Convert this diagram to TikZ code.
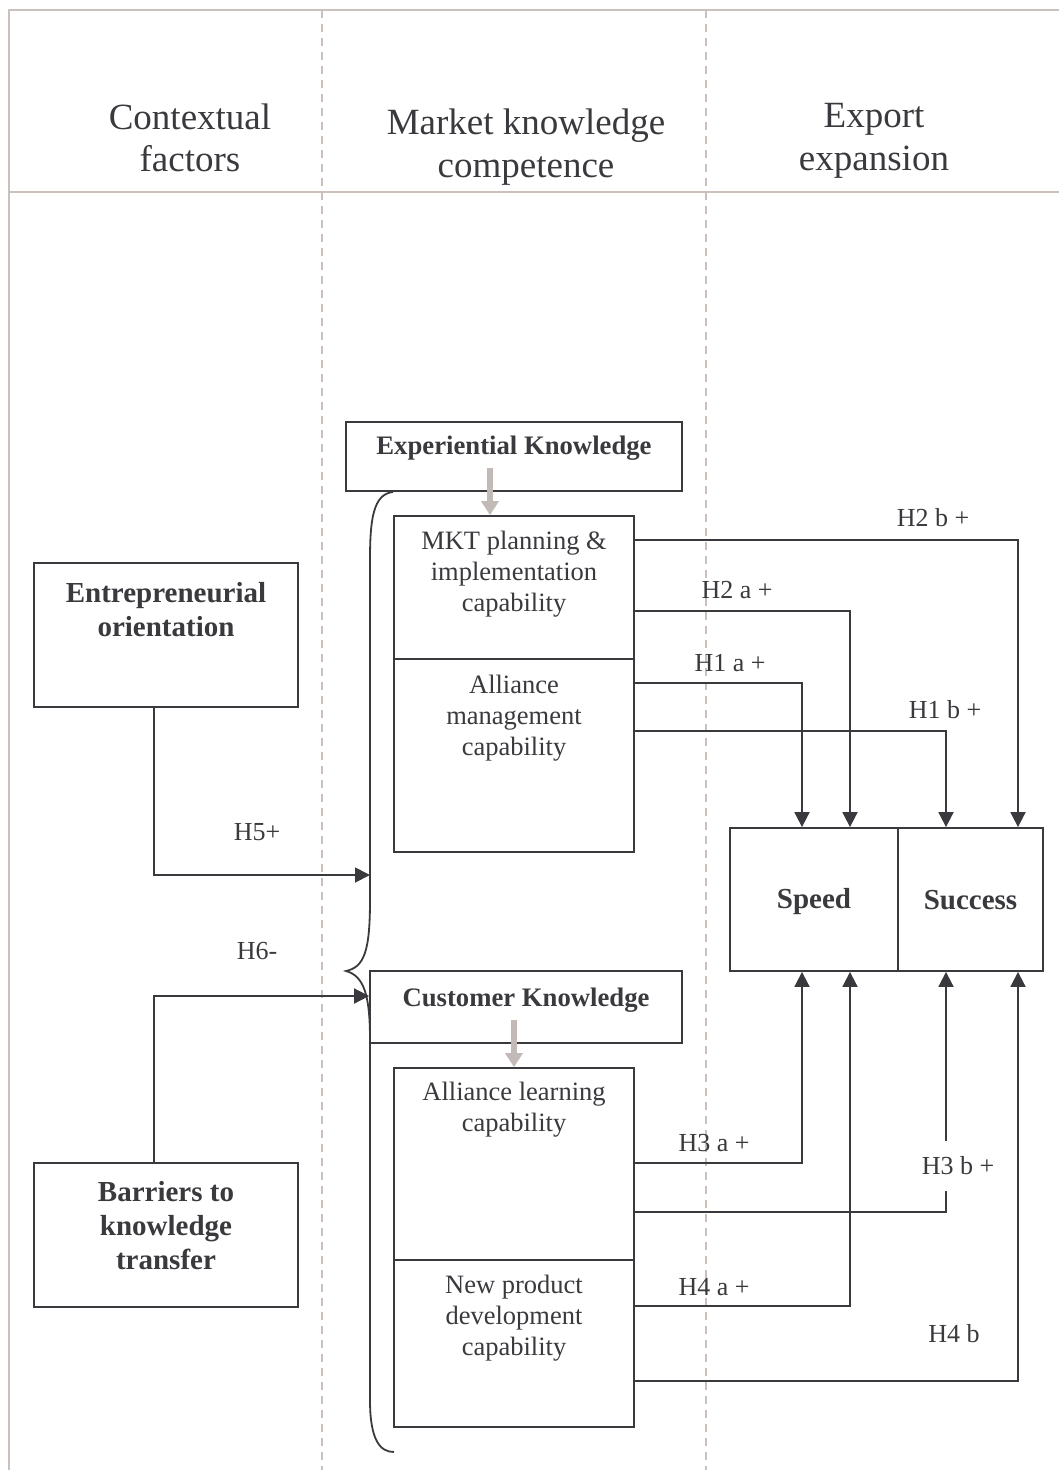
\documentclass[tikz,border=0pt]{standalone}
\usepackage{fontspec}
\setmainfont{Liberation Serif}
\usetikzlibrary{arrows.meta,calc}
\definecolor{ink}{RGB}{58,58,62}
\definecolor{rulecol}{RGB}{202,192,188}
\definecolor{flowcol}{RGB}{194,186,182}
\begin{document}
\begin{tikzpicture}[x=1pt,y=-1pt,
  box/.style={draw=ink, line width=1.8pt, fill=white, inner sep=0pt},
  framerule/.style={draw=rulecol, line width=2pt},
  colrule/.style={draw=rulecol, line width=2pt, dash pattern=on 8pt off 6pt},
  conn/.style={draw=ink, line width=1.8pt, -{Triangle[width=15pt,length=15pt]}},
  feed/.style={draw=flowcol, line width=6pt, -{Triangle[width=17pt,length=14pt]}},
  head/.style={font=\fontsize{37}{42.5}\selectfont, text=ink, align=center, inner sep=0pt},
  body/.style={font=\fontsize{26.5}{31}\selectfont, text=ink, align=center, inner sep=0pt},
  bigbold/.style={font=\bfseries\fontsize{29}{34}\selectfont, text=ink, align=center, inner sep=0pt},
  kbold/.style={font=\bfseries\fontsize{26.7}{31}\selectfont, text=ink, align=center, inner sep=0pt},
  hyp/.style={font=\fontsize{26}{30}\selectfont, text=ink, inner sep=0pt}
]
\useasboundingbox (0,0) rectangle (1059,1470);

% frame and column separators
\draw[framerule] (8.5,1470) -- (8.5,10) -- (1059,10);
\draw[framerule] (8.5,192) -- (1059,192);
\draw[colrule] (322,10) -- (322,1470);
\draw[colrule] (706,10) -- (706,1470);

% column headings
\node[head] (hctx) at (190,138) {Contextual\\factors};
\node[head] (hmkc) at (526,147) {Market knowledge\\competence};
\node[head] (hexp) at (874,141) {Export\\expansion};

% boxes
\node[box, minimum width=336pt, minimum height=69pt] (exp) at (514,456.5) {};
\node[box, minimum width=240pt, minimum height=143pt] (mkt) at (514,587.5) {};
\node[box, minimum width=240pt, minimum height=193pt] (amc) at (514,755.5) {};
\node[box, minimum width=264pt, minimum height=144pt] (eo) at (166,635) {};
\node[box, minimum width=264pt, minimum height=144pt] (bar) at (166,1235) {};
\node[box, minimum width=312pt, minimum height=72pt] (cust) at (526,1007) {};
\node[box, minimum width=240pt, minimum height=192pt] (alc) at (514,1164) {};
\node[box, minimum width=240pt, minimum height=167pt] (npd) at (514,1343.5) {};
\node[box, minimum width=168pt, minimum height=143pt] (speed) at (814,899.5) {};
\node[box, minimum width=145pt, minimum height=143pt] (success) at (970.5,899.5) {};

% box texts
\node[bigbold] (speedt) at (814,902) {Speed};
\node[bigbold] (successt) at (970.5,900) {Success};
\node[kbold] (expt) at (514,448) {Experiential Knowledge};
\node[body] (mktt) at (514,574) {MKT planning \&\\implementation\\capability};
\node[body] (amct) at (514,718) {Alliance\\management\\capability};
\node[bigbold] (eot) at (166,610) {Entrepreneurial\\orientation};
\node[bigbold] (bart) at (166,1226) {Barriers to\\knowledge\\transfer};
\node[kbold] (custt) at (526,1000) {Customer Knowledge};
\node[body] (alct) at (514,1110) {Alliance learning\\capability};
\node[body] (npdt) at (514,1318) {New product\\development\\capability};

% knowledge feeding the capabilities
\coordinate (g1) at (490,468);
\coordinate (g2) at (514,1020);
\draw[feed] (g1) -- (g1 |- mkt.north);
\draw[feed] (g2) -- (g2 |- alc.north);

% brace grouping the competence blocks
\draw[draw=ink, line width=1.8pt]
  (393,492) .. controls (373,494) and (370,520) .. (370,560)
  -- (370,900) .. controls (370,952) and (364,967) .. (346,971)
  .. controls (364,976) and (370,995) .. (370,1040)
  -- (370,1400) .. controls (370,1440) and (380,1452) .. (394,1452);

% drop columns and rows
\coordinate (xa) at (802,0);
\coordinate (xb) at (850,0);
\coordinate (xc) at (946,0);
\coordinate (xd) at (1018,0);
\coordinate (x154) at (154,0);
\coordinate (r540) at (0,540);
\coordinate (r611) at (0,611);
\coordinate (r683) at (0,683);
\coordinate (r731) at (0,731);
\coordinate (r1163) at (0,1163);
\coordinate (r1212) at (0,1212);
\coordinate (r1306) at (0,1306);
\coordinate (r1381) at (0,1381);
\coordinate (r996) at (0,996);
\coordinate (b5) at (370,875);

% hypotheses
\draw[conn] (mkt.east |- r540) -| (xd |- success.north);
\draw[conn] (mkt.east |- r611) -| (xb |- speed.north);
\draw[conn] (amc.east |- r683) -| (xa |- speed.north);
\draw[conn] (amc.east |- r731) -| (xc |- success.north);
\draw[conn] (alc.east |- r1163) -| (xa |- speed.south);
\draw[conn] (alc.east |- r1212) -| (xc |- success.south);
\draw[conn] (npd.east |- r1306) -| (xb |- speed.south);
\draw[conn] (npd.east |- r1381) -| (xd |- success.south);
\draw[conn] (eo.south -| x154) |- (b5);
\draw[conn] (bar.north -| x154) |- (cust.west |- r996);

% hypothesis labels
\node[hyp] (l2b) at (933,518) {H2 b +};
\node[hyp] (l2a) at (737,590) {H2 a +};
\node[hyp] (l1a) at (730,663) {H1 a +};
\node[hyp] (l1b) at (945,710) {H1 b +};
\node[hyp] (l3a) at (714,1143) {H3 a +};
\node[hyp, fill=white, inner ysep=16pt, inner xsep=2pt] (l3b) at (958,1166) {H3 b +};
\node[hyp] (l4a) at (714,1287) {H4 a +};
\node[hyp] (l4b) at (954,1334) {H4 b};
\node[hyp] (l5) at (257,832) {H5+};
\node[hyp] (l6) at (257,951) {H6-};
\end{tikzpicture}
\end{document}
